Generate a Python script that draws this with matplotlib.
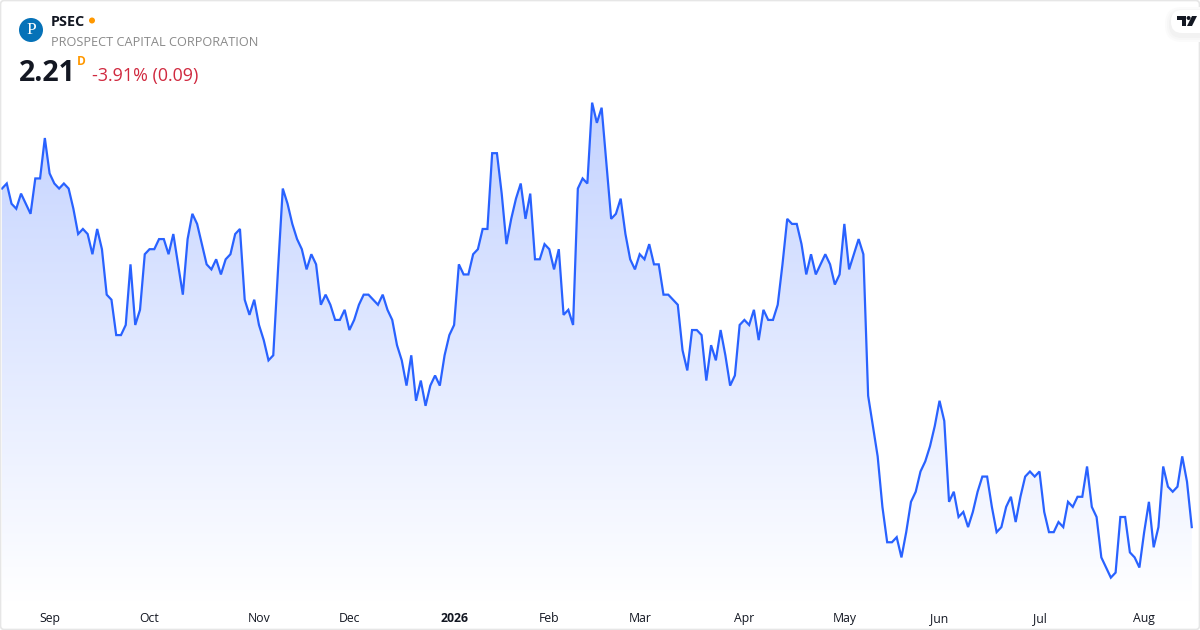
import numpy as np
import matplotlib
matplotlib.use('Agg')
from matplotlib import pyplot
from matplotlib.colors import LinearSegmentedColormap
from matplotlib.patches import Circle, FancyBboxPatch, PathPatch, Polygon
from matplotlib.path import Path

ticker = 'PSEC'
company = 'PROSPECT CAPITAL CORPORATION'
last_price = '2.21'
change_text = '-3.91% (0.09)'

prices = [
    2.88, 2.89, 2.85, 2.84, 2.87, 2.85, 2.83, 2.90, 2.90, 2.98,
    2.91, 2.89, 2.88, 2.89, 2.88, 2.84, 2.79, 2.80, 2.79, 2.75,
    2.80, 2.76, 2.67, 2.66, 2.59, 2.59, 2.61, 2.73, 2.61, 2.64,
    2.75, 2.76, 2.76, 2.78, 2.78, 2.75, 2.79, 2.73, 2.67, 2.78,
    2.83, 2.81, 2.77, 2.73, 2.72, 2.74, 2.71, 2.74, 2.75, 2.79,
    2.80, 2.66, 2.63, 2.66, 2.61, 2.58, 2.54, 2.55, 2.72, 2.88,
    2.85, 2.81, 2.78, 2.76, 2.72, 2.75, 2.73, 2.65, 2.67, 2.65,
    2.62, 2.62, 2.64, 2.60, 2.62, 2.65, 2.67, 2.67, 2.66, 2.65,
    2.67, 2.64, 2.62, 2.57, 2.54, 2.49, 2.55, 2.46, 2.50, 2.45,
    2.49, 2.51, 2.49, 2.55, 2.59, 2.61, 2.73, 2.71, 2.71, 2.75,
    2.76, 2.80, 2.80, 2.95, 2.95, 2.87, 2.77, 2.82, 2.86, 2.89,
    2.82, 2.87, 2.74, 2.74, 2.77, 2.76, 2.72, 2.76, 2.63, 2.64,
    2.61, 2.88, 2.90, 2.89, 3.05, 3.01, 3.04, 2.93, 2.82, 2.83,
    2.86, 2.79, 2.74, 2.72, 2.75, 2.74, 2.77, 2.73, 2.73, 2.67,
    2.67, 2.66, 2.65, 2.56, 2.52, 2.60, 2.60, 2.59, 2.50, 2.57,
    2.54, 2.60, 2.55, 2.49, 2.51, 2.61, 2.62, 2.61, 2.64, 2.58,
    2.64, 2.62, 2.62, 2.65, 2.73, 2.82, 2.81, 2.81, 2.77, 2.71,
    2.75, 2.71, 2.73, 2.75, 2.73, 2.69, 2.71, 2.81, 2.72, 2.75,
    2.78, 2.75, 2.47, 2.41, 2.35, 2.25, 2.18, 2.18, 2.19, 2.15,
    2.20, 2.26, 2.28, 2.32, 2.34, 2.37, 2.41, 2.46, 2.42, 2.26,
    2.28, 2.23, 2.24, 2.21, 2.24, 2.28, 2.31, 2.31, 2.25, 2.20,
    2.21, 2.25, 2.27, 2.22, 2.27, 2.31, 2.32, 2.31, 2.32, 2.24,
    2.20, 2.20, 2.22, 2.21, 2.26, 2.25, 2.27, 2.27, 2.33, 2.25,
    2.23, 2.15, 2.13, 2.11, 2.12, 2.23, 2.23, 2.16, 2.15, 2.13,
    2.20, 2.26, 2.17, 2.21, 2.33, 2.29, 2.28, 2.29, 2.35, 2.30,
    2.21,
]
month_labels = ['Sep', 'Oct', 'Nov', 'Dec', '2026', 'Feb', 'Mar', 'Apr', 'May', 'Jun', 'Jul', 'Aug']
month_positions = [10, 31, 54, 73, 95, 115, 134, 156, 177, 197, 218, 240]

LINE = '#2962ff'
FONT = 'Open Sans'

fig = pyplot.figure(figsize=(12, 6.3), dpi=100, facecolor='white')

# price axes fill the whole figure, limits worked out from the pixel scale
ax = fig.add_axes([0, 0, 1, 1])
ax.axis('off')

x = np.arange(len(prices))
base = 2.21 - 74.6 / 505.3  # bottom of the fill, just above the labels

# gradient under the line
cmap = LinearSegmentedColormap.from_list('area', ['#c4d3ff', '#ffffff'])
poly = ax.fill_between(x, prices, base, facecolor='none', edgecolor='none')
img = ax.imshow(np.linspace(0, 1, 256).reshape(-1, 1), cmap=cmap, aspect='auto',
                extent=[x[0], x[-1], base, max(prices)], origin='upper', zorder=1)
img.set_clip_path(poly.get_paths()[0], transform=ax.transData)
ax.set_xlim(-2.0 / 4.759, 1198.0 / 4.759)
ax.set_ylim(2.21 - 102.9 / 505.3, 2.21 + 527.1 / 505.3)

ax.plot(x, prices, color=LINE, linewidth=1.6, solid_joinstyle='miter', zorder=2)

# month labels sit at a fixed pixel height
for pos, label in zip(month_positions, month_labels):
    ax.text(pos, 2.21 - 91.5 / 505.3, label, ha='center', va='center', fontsize=8.8,
            family=FONT, color='#131722', fontweight='bold' if label == '2026' else 'normal')

# overlay in pixel coordinates for the header and card decoration
over = fig.add_axes([0, 0, 1, 1], facecolor='none')
over.set_xlim(0, 1200)
over.set_ylim(630, 0)
over.axis('off')

over.add_patch(FancyBboxPatch((0.5, 0.5), 1199, 629, boxstyle='round,pad=0,rounding_size=4',
                              fill=False, edgecolor='#e6e6e6', linewidth=1.2))

over.add_patch(Circle((31, 30), 12, facecolor='#0672b8', edgecolor='none'))
over.text(31, 30.5, 'P', ha='center', va='center', fontsize=12.5, family='Liberation Serif', color='white')

over.text(51, 22, ticker, ha='left', va='center', fontsize=10.4, family=FONT, fontweight='bold', color='#131722')
over.add_patch(Circle((92, 20.5), 3, facecolor='#ff9800', edgecolor='none'))
over.text(51, 42, company, ha='left', va='center', fontsize=9.2, family=FONT, color='#8a8a8a')
over.text(19, 73.5, last_price, ha='left', va='center', fontsize=20.5, family=FONT, fontweight='bold', color='#131722')
over.text(77, 61.5, 'D', ha='left', va='center', fontsize=8.6, family=FONT, fontweight='bold', color='#ff9800')
over.text(92, 76, change_text, ha='left', va='center', fontsize=12.85, family=FONT, color='#d0293f')

# TradingView badge, soft shadow then pill
for grow, shade in [(6, '#fbfbfb'), (4, '#f7f7f7'), (2, '#f2f2f2')]:
    over.add_patch(FancyBboxPatch((1171 - grow, 10 - grow + 3), 40 + 2 * grow, 23 + 2 * grow,
                                  boxstyle='round,pad=0,rounding_size=%d' % (11 + grow),
                                  facecolor=shade, edgecolor='none', clip_on=True))
over.add_patch(FancyBboxPatch((1171, 10), 40, 23, boxstyle='round,pad=0,rounding_size=11',
                              facecolor='white', edgecolor='none', clip_on=True))
logo = Path([(1177, 16), (1186, 16), (1186, 26), (1182, 26), (1182, 20), (1177, 20), (1177, 16)])
over.add_patch(PathPatch(logo, facecolor='#131722', edgecolor='none'))
over.add_patch(Circle((1188.6, 18), 2.0, facecolor='#131722', edgecolor='none'))
over.add_patch(Polygon([(1192, 16), (1197, 16), (1192, 26), (1187, 26)], closed=True,
                       facecolor='#131722', edgecolor='none'))

fig.savefig('out.png', dpi=100)
